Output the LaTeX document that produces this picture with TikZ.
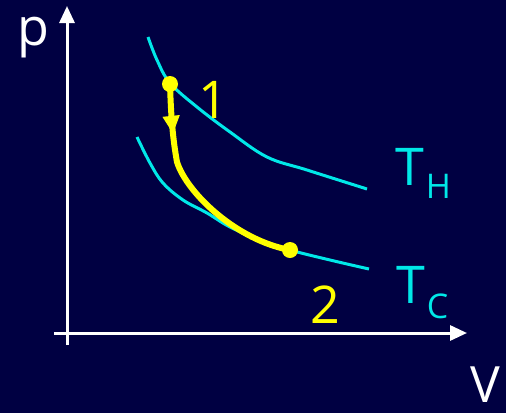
\documentclass[tikz,border=0pt]{standalone}
\usepackage{fontspec}
\setmainfont{Open Sans}
\usetikzlibrary{arrows.meta,decorations.markings}
\definecolor{bg}{RGB}{0,0,66}
\definecolor{iso}{RGB}{0,232,232}
\definecolor{yel}{RGB}{255,255,0}
\tikzset{
  axis/.style={draw=white,line width=3pt,-{Triangle[length=17pt,width=15pt]}},
  isotherm/.style={draw=iso,line width=3pt},
  proc/.style={draw=yel,line width=6pt,
    postaction={decorate},
    decoration={markings,mark=at position 0.22 with {\arrow{Triangle[length=18pt,width=16pt]}}}},
  statedot/.style={circle,fill=yel,inner sep=0pt,minimum size=16pt},
  biglabel/.style={font=\fontsize{52}{52}\selectfont,inner sep=0pt,anchor=base}
}
\begin{document}
\begin{tikzpicture}[x=1pt,y=-1pt]
\fill[bg] (0,0) rectangle (506,413);
\useasboundingbox (0,0) rectangle (506,413);
% axes
\coordinate (ybot) at (67,345);
\coordinate (ytop) at (67,6);
\coordinate (xleft) at (54,333);
\coordinate (xright) at (467,333);
\draw[axis] (ybot) -- (ytop);
\draw[axis] (xleft) -- (xright);
\node[biglabel,text=white] (plab) at (33,45) {p};
\node[biglabel,text=white,font=\fontsize{50}{50}\selectfont] (vlab) at (485,402) {V};
% isotherms
\draw[isotherm] plot[smooth,tension=0.6] coordinates {(148,37) (157,60) (170,83) (197,107) (230,132) (267,157) (307,170) (367,189)};
\draw[isotherm] plot[smooth,tension=0.6] coordinates {(137,137) (150,163) (163,183) (183,200) (207,213) (230,227) (260,240) (290,250) (330,260) (369,269)};
% state points
\node[statedot] (n1) at (170,84) {};
\node[statedot] (n2) at (290,250) {};
\draw[proc,line cap=round] (n1.center) .. controls (171,118) and (173,140) .. (177,162) .. controls (187,193) and (236,240) .. (n2.center);
% labels
\node[biglabel,text=yel] (l1) at (213,118) {1};
\node[biglabel,text=yel] (l2) at (325,323) {2};
\node[biglabel,text=iso,anchor=base west] (th) at (395,185) {T\kern2pt\raisebox{-13pt}{\fontsize{34}{34}\selectfont H}};
\node[biglabel,text=iso,anchor=base west] (tc) at (396,303) {T\kern2pt\raisebox{-15pt}{\fontsize{34}{34}\selectfont C}};
\end{tikzpicture}
\end{document}
